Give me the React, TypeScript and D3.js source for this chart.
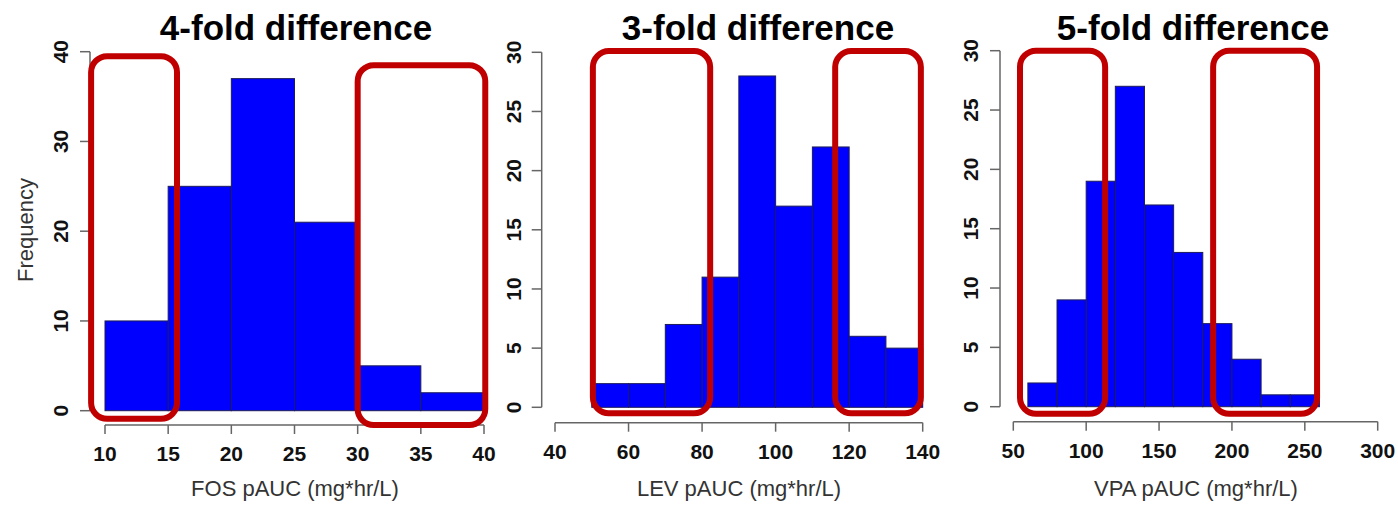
import React from "react";
import * as d3 from "d3";

// ---- data ----
const fosEdges = [10, 15, 20, 25, 30, 35, 40];
const fosCounts = [10, 25, 37, 21, 5, 2];
const fosXTicks = [10, 15, 20, 25, 30, 35, 40];
const fosYTicks = [0, 10, 20, 30, 40];

const levEdges = [50, 60, 70, 80, 90, 100, 110, 120, 130, 140];
const levCounts = [2, 2, 7, 11, 28, 17, 22, 6, 5];
const levXTicks = [40, 60, 80, 100, 120, 140];
const levYTicks = [0, 5, 10, 15, 20, 25, 30];

const vpaEdges = [60, 80, 100, 120, 140, 160, 180, 200, 220, 240, 260];
const vpaCounts = [2, 9, 19, 27, 17, 13, 7, 4, 1, 1];
const vpaXTicks = [50, 100, 150, 200, 250, 300];
const vpaYTicks = [0, 5, 10, 15, 20, 25, 30];

const titles = ["4-fold difference", "3-fold difference", "5-fold difference"];
const xLabels = ["FOS pAUC (mg*hr/L)", "LEV pAUC (mg*hr/L)", "VPA pAUC (mg*hr/L)"];

// highlight boxes in data units: [x0, x1, y0, y1]
const fosBoxes = [[8.9, 15.7, -0.9, 39.5], [30.0, 40.1, -1.6, 38.5]];
const levBoxes = [[50.3, 82.2, -0.5, 30.1], [116.2, 139.5, -0.5, 30.1]];
const vpaBoxes = [[54.6, 113.0, -0.6, 30.0], [187.1, 258.4, -0.6, 30.0]];

// ---- layout ----
const panels = [
  {
    edges: fosEdges, counts: fosCounts, xTicks: fosXTicks, yTicks: fosYTicks, boxes: fosBoxes,
    title: titles[0], xLabel: xLabels[0], ylabel: "Frequency",
    xDom: [10, 40], yDom: [0, 40], xRange: [105, 484], yRange: [410.7, 51.7],
    yAxisX: 90, xAxisY: 425, yLabX: 60, titleX: 296, xLabX: 295,
  },
  {
    edges: levEdges, counts: levCounts, xTicks: levXTicks, yTicks: levYTicks, boxes: levBoxes,
    title: titles[1], xLabel: xLabels[1], ylabel: "",
    xDom: [40, 140], yDom: [0, 30], xRange: [555, 922.7], yRange: [407.3, 52.3],
    yAxisX: 541.7, xAxisY: 422.7, yLabX: 513, titleX: 758, xLabX: 739,
  },
  {
    edges: vpaEdges, counts: vpaCounts, xTicks: vpaXTicks, yTicks: vpaYTicks, boxes: vpaBoxes,
    title: titles[2], xLabel: xLabels[2], ylabel: "",
    xDom: [50, 300], yDom: [0, 30], xRange: [1013.3, 1377.7], yRange: [406.7, 50.7],
    yAxisX: 1000, xAxisY: 421.7, yLabX: 970, titleX: 1193, xLabX: 1196,
  },
];

const FONT = "'Liberation Sans', Arial, Helvetica, sans-serif";
const AXIS = "#666";

function Panel({ p }: { p: any }) {
  const x = d3.scaleLinear().domain(p.xDom).range(p.xRange);
  const y = d3.scaleLinear().domain(p.yDom).range(p.yRange);
  const bins = p.counts.map((c: number, i: number) => ({ x0: p.edges[i], x1: p.edges[i + 1], c }));
  const yTop = y(p.yTicks[p.yTicks.length - 1]);
  const yBot = y(p.yTicks[0]);
  const xL = x(p.xTicks[0]);
  const xR = x(p.xTicks[p.xTicks.length - 1]);
  return (
    <g>
      {/* bars */}
      {bins.map((b: any, i: number) => (
        <rect key={i} x={x(b.x0)} y={y(b.c)} width={x(b.x1) - x(b.x0)} height={y(0) - y(b.c)}
          fill="#0000ff" stroke="#1c1c5a" strokeWidth={1} />
      ))}
      {/* y axis */}
      <line x1={p.yAxisX} x2={p.yAxisX} y1={yTop} y2={yBot} stroke={AXIS} strokeWidth={1.5} />
      {p.yTicks.map((t: number) => (
        <g key={t}>
          <line x1={p.yAxisX - 10} x2={p.yAxisX} y1={y(t)} y2={y(t)} stroke={AXIS} strokeWidth={1.5} />
          <text transform={`translate(${p.yLabX},${y(t)}) rotate(-90)`} textAnchor="middle" dy="0.36em"
            fontFamily={FONT} fontWeight="bold" fontSize={21} fill="#111">{t}</text>
        </g>
      ))}
      {/* x axis */}
      <line x1={xL} x2={xR} y1={p.xAxisY} y2={p.xAxisY} stroke={AXIS} strokeWidth={1.5} />
      {p.xTicks.map((t: number) => (
        <g key={t}>
          <line x1={x(t)} x2={x(t)} y1={p.xAxisY} y2={p.xAxisY + 9} stroke={AXIS} strokeWidth={1.5} />
          <text x={x(t)} y={p.xAxisY + 36} textAnchor="middle"
            fontFamily={FONT} fontWeight="bold" fontSize={21} fill="#111">{t}</text>
        </g>
      ))}
      {/* highlight boxes */}
      {p.boxes.map((bx: number[], i: number) => (
        <rect key={"b" + i} x={x(bx[0])} y={y(bx[3])} width={x(bx[1]) - x(bx[0])} height={y(bx[2]) - y(bx[3])}
          rx={16} ry={16} fill="none" stroke="#c00000" strokeWidth={6} />
      ))}
      {/* labels */}
      <text x={p.titleX} y={40} textAnchor="middle" fontFamily={FONT} fontWeight="bold" fontSize={35} fill="#000">{p.title}</text>
      <text x={p.xLabX} y={496} textAnchor="middle" fontFamily={FONT} fontSize={22} fill="#333">{p.xLabel}</text>
      {p.ylabel && (
        <text transform="translate(25,230) rotate(-90)" textAnchor="middle" dy="0.36em"
          fontFamily={FONT} fontSize={22} fill="#333">{p.ylabel}</text>
      )}
    </g>
  );
}

export default function App() {
  return (
    <svg width={1398} height={506} style={{ position: "absolute", left: 0, top: 0, background: "#fff" }}>
      <rect x={0} y={0} width={1398} height={506} fill="#fff" />
      {panels.map((p, i) => <Panel key={i} p={p} />)}
    </svg>
  );
}
